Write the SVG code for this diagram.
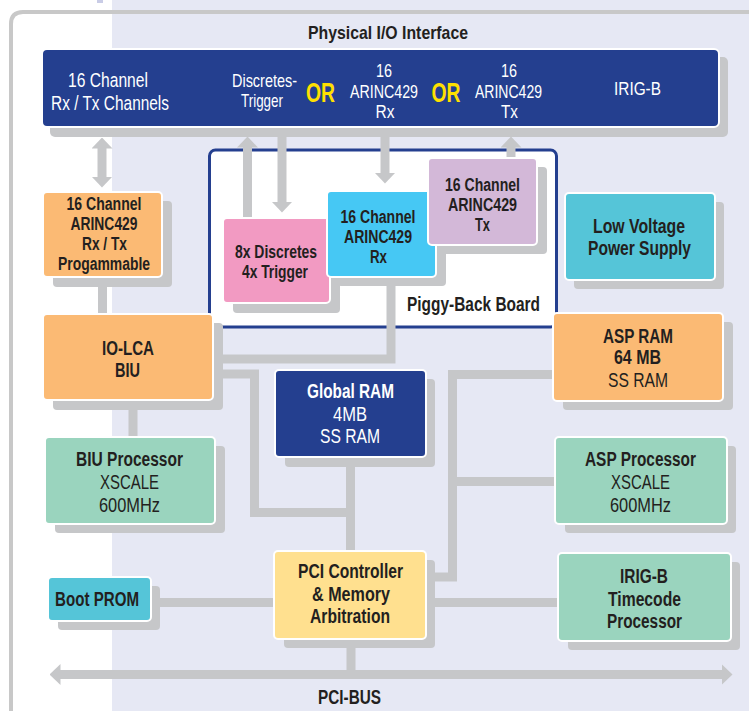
<svg xmlns="http://www.w3.org/2000/svg" width="749" height="711" viewBox="0 0 749 711">
<style>
.t{font-family:"Liberation Sans",Arial,sans-serif;text-anchor:middle}
.b{font-weight:700;fill:#231F20}
.r{font-weight:400;fill:#231F20}
.wb{font-weight:700;fill:#FFFFFF}
.wr{font-weight:400;fill:#FFFFFF}
.or{font-weight:700;fill:#FFE000}
.sh{fill:#C6C7C9}
.box{stroke:#FFFFFF;stroke-width:2}
.orange{fill:#FBBA74}
.green{fill:#9AD4BE}
.cyan{fill:#55C5D8}
.navy{fill:#243F8F}
.con{fill:none;stroke:#C6C7C9;stroke-width:9}
</style>
<defs>
<marker id="ah" markerUnits="userSpaceOnUse" viewBox="0 0 11 21" refX="0.5" refY="10.5" markerWidth="11" markerHeight="21" orient="auto-start-reverse">
<path d="M0,0 L11,10.5 L0,21 Z" fill="#C6C7C9"/>
</marker>
</defs>
<rect x="0" y="0" width="749" height="711" fill="#FFFFFF"/>
<rect x="112" y="0" width="637" height="711" fill="#E6E8F4"/>
<rect x="97" y="0" width="6" height="3" fill="#C9CCE6"/>
<path d="M11,711 V24 Q11,12 23,12 H749" fill="none" stroke="#C8C8C8" stroke-width="4"/>
<text class="t b" x="388" y="39" font-size="19" textLength="160" lengthAdjust="spacingAndGlyphs">Physical I/O Interface</text>

<g id="physical-io-interface">
<rect class="sh" x="50" y="57" width="678" height="80" rx="5"/>
<rect class="box navy" x="42" y="49" width="677" height="78" rx="5"/>
<text class="t wr" x="108" y="87" font-size="20.5" textLength="80" lengthAdjust="spacingAndGlyphs">16 Channel</text>
<text class="t wr" x="110" y="110" font-size="20.5" textLength="118" lengthAdjust="spacingAndGlyphs">Rx / Tx Channels</text>
<text class="t wr" x="264.5" y="87" font-size="19" textLength="65" lengthAdjust="spacingAndGlyphs">Discretes-</text>
<text class="t wr" x="262" y="107" font-size="19" textLength="42" lengthAdjust="spacingAndGlyphs">Trigger</text>
<text class="t or" x="320.5" y="102" font-size="28" textLength="29" lengthAdjust="spacingAndGlyphs">OR</text>
<text class="t wr" x="384" y="77" font-size="18" textLength="16" lengthAdjust="spacingAndGlyphs">16</text>
<text class="t wr" x="384" y="98" font-size="18" textLength="68" lengthAdjust="spacingAndGlyphs">ARINC429</text>
<text class="t wr" x="385" y="118" font-size="18" textLength="19" lengthAdjust="spacingAndGlyphs">Rx</text>
<text class="t or" x="446" y="102" font-size="28" textLength="29" lengthAdjust="spacingAndGlyphs">OR</text>
<text class="t wr" x="509" y="77" font-size="18" textLength="16" lengthAdjust="spacingAndGlyphs">16</text>
<text class="t wr" x="508.5" y="98" font-size="18" textLength="67" lengthAdjust="spacingAndGlyphs">ARINC429</text>
<text class="t wr" x="509.5" y="118" font-size="18" textLength="17" lengthAdjust="spacingAndGlyphs">Tx</text>
<text class="t wr" x="637.5" y="95" font-size="19" textLength="47" lengthAdjust="spacingAndGlyphs">IRIG-B</text>
</g>

<g id="piggy-back-board">
<rect x="209.5" y="150" width="347" height="177" rx="6" fill="#FFFFFF" stroke="#243F8F" stroke-width="3"/>
<text class="t b" x="473.5" y="311" font-size="19.5" textLength="133" lengthAdjust="spacingAndGlyphs">Piggy-Back Board</text>
</g>

<g id="connectors">
<line class="con" x1="102" y1="148" x2="102" y2="177" marker-start="url(#ah)" marker-end="url(#ah)" stroke-width="10"/>
<line class="con" x1="247.5" y1="219" x2="247.5" y2="147" marker-end="url(#ah)"/>
<line class="con" x1="282" y1="130" x2="282" y2="202" marker-end="url(#ah)" stroke-width="10"/>
<line class="con" x1="385" y1="130" x2="385" y2="173" marker-end="url(#ah)" stroke-width="10"/>
<line class="con" x1="511" y1="159" x2="511" y2="147" marker-end="url(#ah)" stroke-width="10"/>
<path class="con" d="M102.5,285 V315"/>
<path class="con" d="M133,408 V438" stroke-width="8"/>
<path class="con" d="M220,359 H391 V283" stroke-width="8"/>
<path class="con" d="M220,374 H254.5 V512.5 H352"/>
<path class="con" d="M350.5,465 V552"/>
<path class="con" d="M433,577 H452.5 V374.5 H555"/>
<path class="con" d="M452.5,481.5 H557"/>
<path class="con" d="M158,602.5 H276"/>
<path class="con" d="M433,602.5 H560"/>
<path class="con" d="M351,646 V675" stroke-width="8"/>
<line class="con" x1="60" y1="674.5" x2="722" y2="674.5" marker-start="url(#ah)" marker-end="url(#ah)" stroke-width="8"/>
</g>

<g id="arinc429-rxtx-programmable">
<rect class="sh" x="53" y="201" width="119" height="86" rx="4"/>
<rect class="box orange" x="43" y="192" width="119" height="85" rx="4"/>
<text class="t b" x="104" y="210" font-size="18" textLength="75" lengthAdjust="spacingAndGlyphs">16 Channel</text>
<text class="t b" x="104" y="230" font-size="18" textLength="67" lengthAdjust="spacingAndGlyphs">ARINC429</text>
<text class="t b" x="104.5" y="250" font-size="18" textLength="45" lengthAdjust="spacingAndGlyphs">Rx / Tx</text>
<text class="t b" x="104" y="270" font-size="18" textLength="92" lengthAdjust="spacingAndGlyphs">Progammable</text>
</g>

<g id="discretes-trigger">
<rect class="sh" x="233" y="227" width="107" height="86" rx="4"/>
<rect class="box" x="223" y="218" width="107" height="85" rx="4" fill="#F29AC2"/>
<text class="t b" x="276" y="258" font-size="18" textLength="82" lengthAdjust="spacingAndGlyphs">8x Discretes</text>
<text class="t b" x="275" y="278" font-size="18" textLength="66" lengthAdjust="spacingAndGlyphs">4x Trigger</text>
</g>

<g id="arinc429-rx">
<rect class="sh" x="337" y="200" width="109" height="86" rx="4"/>
<rect class="box" x="327" y="191" width="109" height="86" rx="4" fill="#46C8F4"/>
<text class="t b" x="378" y="223" font-size="18" textLength="75" lengthAdjust="spacingAndGlyphs">16 Channel</text>
<text class="t b" x="378" y="243" font-size="18" textLength="68" lengthAdjust="spacingAndGlyphs">ARINC429</text>
<text class="t b" x="378.5" y="263" font-size="18" textLength="17" lengthAdjust="spacingAndGlyphs">Rx</text>
</g>

<g id="arinc429-tx">
<rect class="sh" x="438" y="167" width="109" height="87" rx="4"/>
<rect class="box" x="428" y="158" width="109" height="87" rx="4" fill="#D3B8D8"/>
<text class="t b" x="482.5" y="191" font-size="18" textLength="75" lengthAdjust="spacingAndGlyphs">16 Channel</text>
<text class="t b" x="482.5" y="211" font-size="18" textLength="69" lengthAdjust="spacingAndGlyphs">ARINC429</text>
<text class="t b" x="482.5" y="231" font-size="18" textLength="15" lengthAdjust="spacingAndGlyphs">Tx</text>
</g>

<g id="low-voltage-power-supply">
<rect class="sh" x="574" y="202" width="150" height="87" rx="4"/>
<rect class="box cyan" x="565" y="193" width="150" height="87" rx="4"/>
<text class="t b" x="639" y="233" font-size="20" textLength="92" lengthAdjust="spacingAndGlyphs">Low Voltage</text>
<text class="t b" x="639.5" y="255" font-size="20" textLength="103" lengthAdjust="spacingAndGlyphs">Power Supply</text>
</g>

<g id="io-lca-biu">
<rect class="sh" x="53" y="323" width="170" height="87" rx="4"/>
<rect class="box orange" x="43" y="314" width="170" height="86" rx="4"/>
<text class="t b" x="128" y="355" font-size="20" textLength="52" lengthAdjust="spacingAndGlyphs">IO-LCA</text>
<text class="t b" x="127.5" y="377" font-size="20" textLength="25" lengthAdjust="spacingAndGlyphs">BIU</text>
</g>

<g id="asp-ram">
<rect class="sh" x="563" y="322" width="170" height="88" rx="4"/>
<rect class="box orange" x="553" y="313" width="170" height="88" rx="4"/>
<text class="t b" x="638" y="343" font-size="20" textLength="70" lengthAdjust="spacingAndGlyphs">ASP RAM</text>
<text class="t b" x="637.5" y="364" font-size="20" textLength="47" lengthAdjust="spacingAndGlyphs">64 MB</text>
<text class="t r" x="638" y="387" font-size="20" textLength="60" lengthAdjust="spacingAndGlyphs">SS RAM</text>
</g>

<g id="global-ram">
<rect class="sh" x="285" y="379" width="150" height="88" rx="4"/>
<rect class="box navy" x="275" y="370" width="151" height="87" rx="4"/>
<text class="t wb" x="350.5" y="398" font-size="20" textLength="87" lengthAdjust="spacingAndGlyphs">Global RAM</text>
<text class="t wr" x="350" y="421" font-size="20" textLength="34" lengthAdjust="spacingAndGlyphs">4MB</text>
<text class="t wr" x="350" y="443" font-size="20" textLength="60" lengthAdjust="spacingAndGlyphs">SS RAM</text>
</g>

<g id="biu-processor">
<rect class="sh" x="55" y="446" width="170" height="87" rx="4"/>
<rect class="box green" x="45" y="437" width="170" height="87" rx="4"/>
<text class="t b" x="129.5" y="466" font-size="20" textLength="107" lengthAdjust="spacingAndGlyphs">BIU Processor</text>
<text class="t r" x="129.5" y="489" font-size="20" textLength="59" lengthAdjust="spacingAndGlyphs">XSCALE</text>
<text class="t r" x="129.5" y="512" font-size="20" textLength="61" lengthAdjust="spacingAndGlyphs">600MHz</text>
</g>

<g id="asp-processor">
<rect class="sh" x="565" y="446" width="171" height="87" rx="4"/>
<rect class="box green" x="555" y="437" width="172" height="87" rx="4"/>
<text class="t b" x="640.5" y="466" font-size="20" textLength="111" lengthAdjust="spacingAndGlyphs">ASP Processor</text>
<text class="t r" x="640.5" y="489" font-size="20" textLength="59" lengthAdjust="spacingAndGlyphs">XSCALE</text>
<text class="t r" x="640.5" y="512" font-size="20" textLength="61" lengthAdjust="spacingAndGlyphs">600MHz</text>
</g>

<g id="boot-prom">
<rect class="sh" x="58" y="586" width="102" height="44" rx="4"/>
<rect class="box cyan" x="48" y="577" width="103" height="44" rx="4"/>
<text class="t b" x="97" y="606" font-size="20" textLength="84" lengthAdjust="spacingAndGlyphs">Boot PROM</text>
</g>

<g id="pci-controller">
<rect class="sh" x="284" y="560" width="151" height="88" rx="4"/>
<rect class="box" x="274" y="551" width="152" height="88" rx="4" fill="#FFE08F"/>
<text class="t b" x="350.5" y="578" font-size="20" textLength="105" lengthAdjust="spacingAndGlyphs">PCI Controller</text>
<text class="t b" x="351" y="601" font-size="20" textLength="78" lengthAdjust="spacingAndGlyphs">&amp; Memory</text>
<text class="t b" x="350" y="623" font-size="20" textLength="80" lengthAdjust="spacingAndGlyphs">Arbitration</text>
</g>

<g id="irig-b-timecode-processor">
<rect class="sh" x="568" y="562" width="172" height="88" rx="4"/>
<rect class="box green" x="558" y="553" width="173" height="88" rx="4"/>
<text class="t b" x="644" y="583" font-size="20" textLength="48" lengthAdjust="spacingAndGlyphs">IRIG-B</text>
<text class="t b" x="644.5" y="606" font-size="20" textLength="73" lengthAdjust="spacingAndGlyphs">Timecode</text>
<text class="t b" x="644.5" y="628" font-size="20" textLength="75" lengthAdjust="spacingAndGlyphs">Processor</text>
</g>

<g id="pci-bus">
<text class="t b" x="349.5" y="704" font-size="20" textLength="63" lengthAdjust="spacingAndGlyphs">PCI-BUS</text>
</g>
</svg>
